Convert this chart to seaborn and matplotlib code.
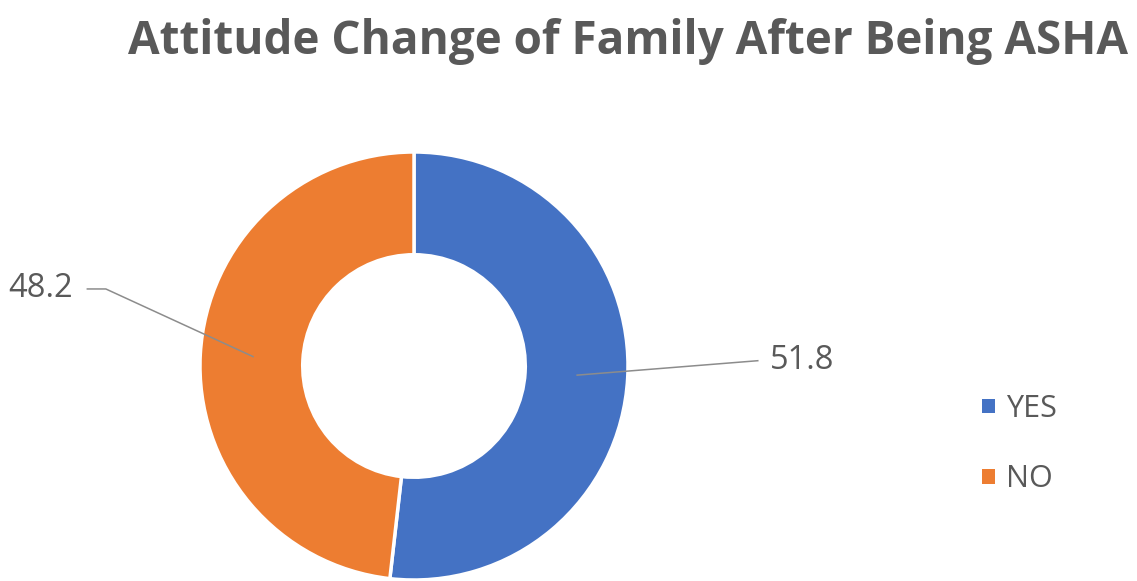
import numpy as np
import matplotlib
matplotlib.use("Agg")
import matplotlib.pyplot as plt
import seaborn as sns

categories = ["YES", "NO"]
values = [51.8, 48.2]
colors = ["#4472C4", "#ED7D31"]
title = "Attitude Change of Family After Being ASHA"

sns.set_theme(style="white")
plt.rcParams["font.family"] = ["Open Sans", "DejaVu Sans"]
text_gray = "#595959"

W, H = 1137, 581
fig = plt.figure(figsize=(W / 100, H / 100), dpi=100)
fig.patch.set_facecolor("white")

# axes spanning the figure, one data unit = donut radius
R = 214.0
cx, cy = 414.0, 215.0
ax = fig.add_axes([0, 0, 1, 1])

wedges, _ = ax.pie(
    values,
    colors=colors,
    startangle=90,
    counterclock=False,
    radius=1.0,
    wedgeprops=dict(width=0.48, edgecolor="white", linewidth=2.5),
)
ax.set_xlim(-cx / R, (W - cx) / R)
ax.set_ylim(-cy / R, (H - cy) / R)
ax.set_aspect("equal")
ax.axis("off")

# leader lines and value labels
label_specs = [
    dict(r=0.76, pts=[(1.61, 0.025)], text=(1.665, 0.025), ha="left"),
    dict(r=0.75, pts=[(-1.44, 0.36), (-1.53, 0.36)], text=(-1.595, 0.36), ha="right"),
]
for w, v, spec in zip(wedges, values, label_specs):
    ang = np.deg2rad((w.theta1 + w.theta2) / 2)
    x0, y0 = spec["r"] * np.cos(ang), spec["r"] * np.sin(ang)
    xs = [x0] + [p[0] for p in spec["pts"]]
    ys = [y0] + [p[1] for p in spec["pts"]]
    ax.plot(xs, ys, color="#8c8c8c", lw=1.1, solid_capstyle="butt")
    ax.text(spec["text"][0], spec["text"][1], f"{v}", ha=spec["ha"], va="center",
            fontsize=23.5, color=text_gray)

fig.text(0.552, 0.928, title, ha="center", va="center", fontsize=33,
         fontweight="bold", color=text_gray)

leg = fig.legend(
    wedges, categories,
    loc="center left", bbox_to_anchor=(0.8637, 0.2358),
    frameon=False, fontsize=22, labelcolor=text_gray,
    handlelength=0.43, handleheight=0.36, handletextpad=0.36,
    labelspacing=1.32, borderpad=0, borderaxespad=0,
)
for h in leg.legend_handles:
    h.set_edgecolor("none")

fig.savefig("out.png", dpi=100, facecolor="white")
